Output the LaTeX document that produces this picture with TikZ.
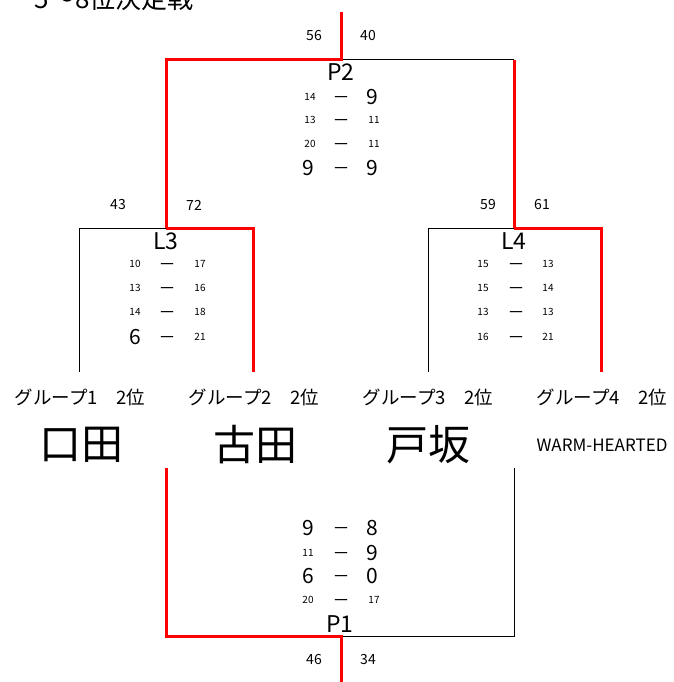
\documentclass[tikz,border=0pt]{standalone}
\usepackage{fontspec}
\setmainfont{Noto Sans CJK JP}
\tikzset{
  win/.style={red, line width=3pt},
  lose/.style={black, line width=1pt},
  tiny/.style={inner sep=0pt, font=\fontsize{10}{10}\selectfont},
  big/.style={inner sep=0pt, font=\fontsize{21}{22}\selectfont},
  bar/.style={inner sep=0pt, anchor=base, yshift=-6pt, font=\fontsize{17}{17}\selectfont},
  pts/.style={inner sep=0pt, font=\fontsize{14}{15}\selectfont},
  game/.style={inner sep=0pt, font=\fontsize{23}{24}\selectfont},
  grp/.style={inner sep=0pt, font=\fontsize{18.5}{19}\selectfont},
  team/.style={inner sep=0pt, font=\fontsize{42}{43}\selectfont}
}
\begin{document}
\begin{tikzpicture}[x=1pt, y=-1pt]
\useasboundingbox (0,0) rectangle (673,682);

% bracket corners
\coordinate (top) at (341,12);
\coordinate (P2) at (341,60);
\coordinate (P2l) at (166,60);
\coordinate (P2r) at (514,60);
\coordinate (L3) at (166,228);
\coordinate (L3l) at (79,228);
\coordinate (L3r) at (253,228);
\coordinate (L4) at (514,228);
\coordinate (L4l) at (428,228);
\coordinate (L4r) at (601,228);
\coordinate (G1) at (79,372);
\coordinate (G2) at (253,372);
\coordinate (G3) at (428,372);
\coordinate (G4) at (601,372);
\coordinate (B2) at (166,468);
\coordinate (B3) at (514,468);
\coordinate (P1l) at (166,636);
\coordinate (P1) at (341,636);
\coordinate (P1r) at (514,636);
\coordinate (bot) at (341,682);

\draw[lose] (P2)--(P2r);
\draw[win] (top)--(P2)--(P2l)--(L3);
\draw[win] (P2r)--(L4);
\draw[lose] (L3)--(L3l)--(G1);
\draw[win] (L3)--(L3r)--(G2);
\draw[lose] (L4)--(L4l)--(G3);
\draw[win] (L4)--(L4r)--(G4);
\draw[lose] (B3)--(P1r)--(P1);
\draw[win] (B2)--(P1l)--(P1)--(bot);

% title
\node[anchor=base, inner sep=0pt, font=\fontsize{26}{27}\selectfont] (title) at (114,8.5) {5～8位決定戦};

% P2
\node[pts] (p2a) at (314,36) {56};
\node[pts] (p2b) at (368,36) {40};
\node[game] (p2) at (341,72) {P2};
\node[tiny] (p2s1a) at (310,97) {14};  \node[bar] (p2s1d) at (341,97) {－}; \node[big] (p2s1b) at (372,97) {9};
\node[tiny] (p2s2a) at (310,120) {13}; \node[bar] (p2s2d) at (341,120) {－}; \node[tiny] (p2s2b) at (374,120) {11};
\node[tiny] (p2s3a) at (310,144) {20}; \node[bar] (p2s3d) at (341,144) {－}; \node[tiny] (p2s3b) at (374,144) {11};
\node[big] (p2s4a) at (308,168) {9};   \node[bar] (p2s4d) at (341,168) {－}; \node[big] (p2s4b) at (372,168) {9};

% L3
\node[pts] (l3a) at (118,205) {43};
\node[pts] (l3b) at (194,205) {72};
\node[game] (l3) at (166,241) {L3};
\node[tiny] (l3s1a) at (135,264) {10}; \node[bar] (l3s1d) at (167,264) {－}; \node[tiny] (l3s1b) at (200,264) {17};
\node[tiny] (l3s2a) at (135,288) {13}; \node[bar] (l3s2d) at (167,288) {－}; \node[tiny] (l3s2b) at (200,288) {16};
\node[tiny] (l3s3a) at (135,312) {14}; \node[bar] (l3s3d) at (167,312) {－}; \node[tiny] (l3s3b) at (200,312) {18};
\node[big] (l3s4a) at (135,337) {6};   \node[bar] (l3s4d) at (167,337) {－}; \node[tiny] (l3s4b) at (200,337) {21};

% L4
\node[pts] (l4a) at (488,205) {59};
\node[pts] (l4b) at (542,205) {61};
\node[game] (l4) at (514,241) {L4};
\node[tiny] (l4s1a) at (483,264) {15}; \node[bar] (l4s1d) at (516,264) {－}; \node[tiny] (l4s1b) at (548,264) {13};
\node[tiny] (l4s2a) at (483,288) {15}; \node[bar] (l4s2d) at (516,288) {－}; \node[tiny] (l4s2b) at (548,288) {14};
\node[tiny] (l4s3a) at (483,312) {13}; \node[bar] (l4s3d) at (516,312) {－}; \node[tiny] (l4s3b) at (548,312) {13};
\node[tiny] (l4s4a) at (483,337) {16}; \node[bar] (l4s4d) at (516,337) {－}; \node[tiny] (l4s4b) at (548,337) {21};

% teams
\node[grp] (g1) at (80,397) {グループ1　2位};
\node[grp] (g2) at (254,397) {グループ2　2位};
\node[grp] (g3) at (428,397) {グループ3　2位};
\node[grp] (g4) at (602,397) {グループ4　2位};
\node[team] (t1) at (81,445) {口田};
\node[team] (t2) at (255,445) {古田};
\node[team] (t3) at (428,445) {戸坂};
\node[inner sep=0pt, font=\fontsize{17}{17}\selectfont] (t4) at (602,445) {WARM-HEARTED};

% P1
\node[big] (p1s1a) at (308,528) {9};   \node[bar] (p1s1d) at (341,528) {－}; \node[big] (p1s1b) at (372,528) {8};
\node[tiny] (p1s2a) at (308,553) {11}; \node[bar] (p1s2d) at (341,553) {－}; \node[big] (p1s2b) at (372,553) {9};
\node[big] (p1s3a) at (308,576) {6};   \node[bar] (p1s3d) at (341,576) {－}; \node[big] (p1s3b) at (372,576) {0};
\node[tiny] (p1s4a) at (308,600) {20}; \node[bar] (p1s4d) at (341,600) {－}; \node[tiny] (p1s4b) at (374,600) {17};
\node[game] (p1) at (340,624) {P1};
\node[pts] (p1a) at (314,660) {46};
\node[pts] (p1b) at (368,660) {34};
\end{tikzpicture}
\end{document}
